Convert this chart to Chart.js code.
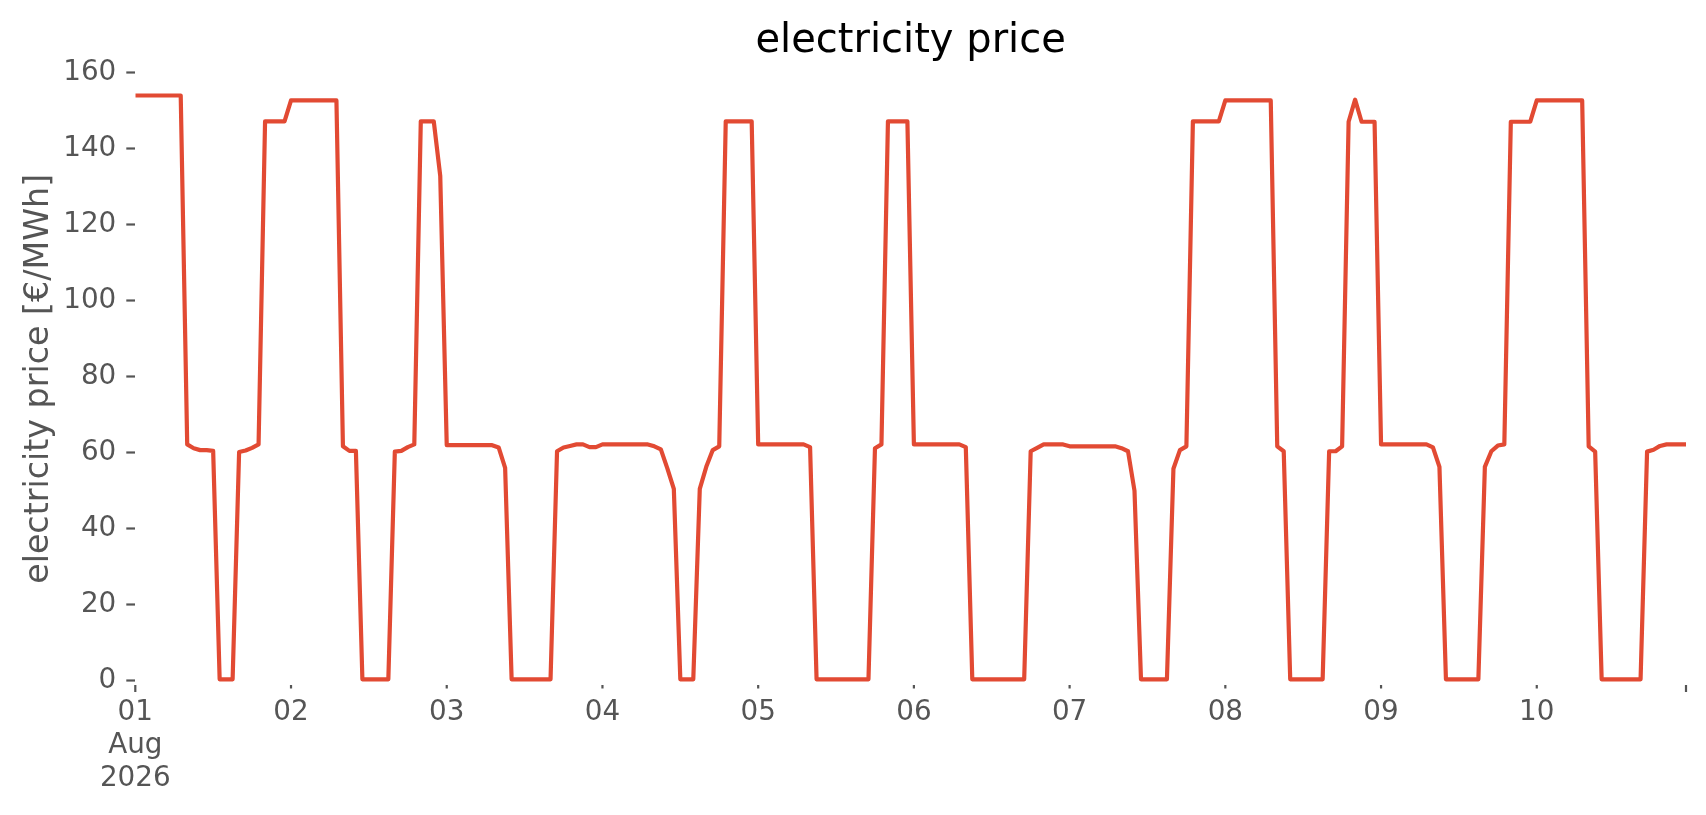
<!DOCTYPE html>
<html>
<head>
<meta charset="utf-8">
<title>electricity price</title>
<script src="https://cdn.jsdelivr.net/npm/chart.js@4.4.1/dist/chart.umd.min.js"></script>
<style>
  html, body { margin: 0; padding: 0; background: #fff; }
  #wrap { width: 1706px; height: 815px; position: relative; }
</style>
</head>
<body>
<div id="wrap"><canvas id="priceChart"></canvas></div>
<script>
// ===================== DATA =====================
// hourly price in €/MWh, starting 01 Aug 2026 00:00, one array per day
const day01 = [154, 154, 154, 154, 154, 154, 154, 154, 62.2, 61.2, 60.7, 60.7, 60.5, 0.4, 0.4, 0.4, 60.2, 60.6, 61.3, 62.2, 147.2, 147.2, 147.2, 147.2];
const day02 = [152.7, 152.7, 152.7, 152.7, 152.7, 152.7, 152.7, 152.7, 61.7, 60.5, 60.5, 0.4, 0.4, 0.4, 0.4, 0.4, 60.3, 60.5, 61.5, 62.2, 147.2, 147.2, 147.2, 132.8];
const day03 = [62.0, 62.0, 62.0, 62.0, 62.0, 62.0, 62.0, 62.0, 61.4, 56.0, 0.4, 0.4, 0.4, 0.4, 0.4, 0.4, 0.4, 60.4, 61.4, 61.8, 62.2, 62.2, 61.5, 61.5];
const day04 = [62.2, 62.2, 62.2, 62.2, 62.2, 62.2, 62.2, 62.2, 61.7, 60.9, 55.9, 50.5, 0.4, 0.4, 0.4, 50.5, 56.3, 60.7, 61.7, 147.2, 147.2, 147.2, 147.2, 147.2];
const day05 = [62.2, 62.2, 62.2, 62.2, 62.2, 62.2, 62.2, 62.2, 61.5, 0.4, 0.4, 0.4, 0.4, 0.4, 0.4, 0.4, 0.4, 0.4, 61.2, 62.2, 147.2, 147.2, 147.2, 147.2];
const day06 = [62.2, 62.2, 62.2, 62.2, 62.2, 62.2, 62.2, 62.2, 61.5, 0.4, 0.4, 0.4, 0.4, 0.4, 0.4, 0.4, 0.4, 0.4, 60.4, 61.3, 62.2, 62.2, 62.2, 62.2];
const day07 = [61.7, 61.7, 61.7, 61.7, 61.7, 61.7, 61.7, 61.7, 61.2, 60.4, 50.0, 0.4, 0.4, 0.4, 0.4, 0.4, 55.8, 60.7, 61.7, 147.2, 147.2, 147.2, 147.2, 147.2];
const day08 = [152.7, 152.7, 152.7, 152.7, 152.7, 152.7, 152.7, 152.7, 61.7, 60.4, 0.4, 0.4, 0.4, 0.4, 0.4, 0.4, 60.4, 60.4, 61.7, 147.1, 152.9, 147.1, 147.1, 147.1];
const day09 = [62.2, 62.2, 62.2, 62.2, 62.2, 62.2, 62.2, 62.2, 61.4, 56.3, 0.4, 0.4, 0.4, 0.4, 0.4, 0.4, 56.3, 60.4, 61.9, 62.2, 147.1, 147.1, 147.1, 147.1];
const day10 = [152.7, 152.7, 152.7, 152.7, 152.7, 152.7, 152.7, 152.7, 61.7, 60.3, 0.4, 0.4, 0.4, 0.4, 0.4, 0.4, 0.4, 60.3, 60.8, 61.8, 62.2, 62.2, 62.2, 62.2];

// x ticks: hour offsets from the start and their labels
const tickHours = [0, 24, 48, 72, 96, 120, 144, 168, 192, 216, 239];
const tickLabels = [["01", "Aug", "2026"], "02", "03", "04", "05", "06", "07", "08", "09", "10", ""];
const yTicks = [0, 20, 40, 60, 80, 100, 120, 140, 160];

const chartTitle = "electricity price";
const yAxisTitle = "electricity price [€/MWh]";

const FONT = "'DejaVu Sans', 'Liberation Sans', sans-serif";
const TICK_COLOR = "#555555";

const prices = [].concat(day01, day02, day03, day04, day05, day06, day07, day08, day09, day10);

// ===================== PLUGINS =====================
const whiteBackground = {
  id: "whiteBackground",
  beforeDraw(chart) {
    const ctx = chart.ctx;
    ctx.save();
    ctx.fillStyle = "#ffffff";
    ctx.fillRect(0, 0, chart.width, chart.height);
    ctx.restore();
  }
};

// title centred over the plot area, not the whole canvas
const axesTitle = {
  id: "axesTitle",
  afterDraw(chart) {
    const { ctx, chartArea } = chart;
    ctx.save();
    ctx.font = "40px " + FONT;
    ctx.fillStyle = "#000000";
    ctx.textAlign = "center";
    ctx.textBaseline = "alphabetic";
    ctx.fillText(chartTitle, (chartArea.left + chartArea.right) / 2, chartArea.top - 20.5);
    ctx.restore();
  }
};

// first and last x tick are longer than the daily ones
const xTickMarks = {
  id: "xTickMarks",
  afterDraw(chart) {
    const { ctx, chartArea } = chart;
    const xScale = chart.scales.x;
    ctx.save();
    ctx.strokeStyle = TICK_COLOR;
    ctx.lineWidth = 2.2;
    tickHours.forEach((h, i) => {
      const major = i === 0 || i === tickHours.length - 1;
      const px = xScale.getPixelForValue(h);
      ctx.beginPath();
      ctx.moveTo(px, chartArea.bottom);
      ctx.lineTo(px, chartArea.bottom + (major ? 7 : 3.5));
      ctx.stroke();
    });
    ctx.restore();
  }
};

// ===================== CHART =====================
const ctx = document.getElementById("priceChart").getContext("2d");

new Chart(ctx, {
  type: "line",
  data: {
    datasets: [{
      label: chartTitle,
      data: prices.map((v, i) => ({ x: i, y: v })),
      borderColor: "#E24A33",
      borderWidth: 4.2,
      borderJoinStyle: "round",
      pointRadius: 0,
      fill: false,
      tension: 0
    }]
  },
  options: {
    responsive: true,
    maintainAspectRatio: false,
    animation: false,
    layout: { padding: { top: 72.7, right: 20, bottom: 0, left: 0 } },
    plugins: {
      legend: { display: false },
      tooltip: { enabled: false },
      title: { display: false }
    },
    scales: {
      x: {
        type: "linear",
        min: 0,
        max: 239,
        afterBuildTicks: axis => { axis.ticks = tickHours.map(v => ({ value: v })); },
        afterFit: axis => { axis.height = 130; },
        border: { display: false },
        grid: { display: false, drawTicks: false },
        ticks: {
          autoSkip: false,
          maxRotation: 0,
          minRotation: 0,
          color: TICK_COLOR,
          padding: 12,
          font: { family: FONT, size: 27.8, lineHeight: 1.17 },
          callback: (value, index) => tickLabels[index]
        }
      },
      y: {
        min: -1.1,
        max: 160,
        afterBuildTicks: axis => { axis.ticks = yTicks.map(v => ({ value: v })); },
        afterFit: axis => { axis.width = 135.3; },
        border: { display: false },
        grid: {
          drawOnChartArea: false,
          drawTicks: true,
          tickLength: 9,
          tickWidth: 2.2,
          tickColor: TICK_COLOR
        },
        ticks: {
          color: TICK_COLOR,
          padding: 10,
          font: { family: FONT, size: 27.8 }
        },
        title: {
          display: true,
          text: yAxisTitle,
          color: TICK_COLOR,
          font: { family: FONT, size: 33.3 },
          padding: { top: 19, bottom: 0 }
        }
      }
    }
  },
  plugins: [whiteBackground, axesTitle, xTickMarks]
});
</script>
</body>
</html>
